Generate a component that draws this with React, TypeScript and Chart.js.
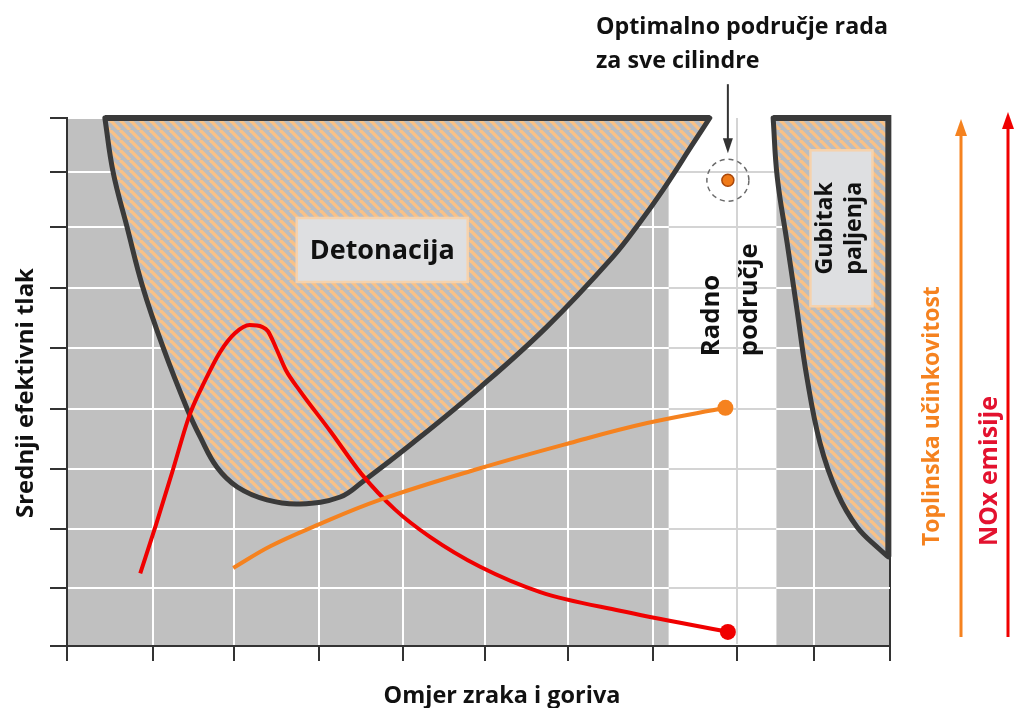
import React, { useEffect, useRef } from "react";
import { Chart, registerables } from "chart.js";

Chart.register(...registerables);

// ---- axes (the original has tick marks but no tick labels) ----
const X_TICKS = [0, 1.05, 2.03, 3.06, 4.08, 5.08, 6.09, 7.12, 8.14, 9.08, 10];
const Y_TICKS = [0, 0.99, 1.99, 3.02, 4.04, 5.08, 6.1, 7.14, 8.08, 9];
const X_MAX = 10;
const Y_MAX = 9;

// ---- NOx emissions (red) ----
const NOX_X = [0.89, 1.08, 1.28, 1.49, 1.68, 1.86, 2.04, 2.22, 2.37, 2.44, 2.54, 2.66, 2.83, 3.2, 3.58, 3.99, 4.41, 5.02, 5.75, 6.72, 8.03];
const NOX_Y = [1.24, 2.06, 2.97, 3.94, 4.53, 5.01, 5.33, 5.47, 5.44, 5.37, 5.08, 4.7, 4.35, 3.66, 2.93, 2.32, 1.86, 1.35, 0.92, 0.6, 0.24];

// ---- thermal efficiency (orange) ----
const EFF_X = [2.02, 2.47, 2.99, 3.8, 5.02, 6.11, 7.05, 8.0];
const EFF_Y = [1.33, 1.7, 2.03, 2.49, 3.03, 3.46, 3.8, 4.06];

// ---- knock region boundary ----
const KNOCK_X = [0.46, 0.56, 0.73, 0.92, 1.17, 1.46, 1.62, 1.82, 2.07, 2.43, 2.83, 3.32, 3.6, 4.2, 5.02, 5.83, 6.63, 6.96, 7.24, 7.61, 7.81];
const KNOCK_Y = [9, 8.08, 7.14, 6.12, 5.08, 4.04, 3.56, 3.05, 2.71, 2.49, 2.42, 2.54, 2.81, 3.46, 4.41, 5.44, 6.63, 7.22, 7.77, 8.57, 9];

// ---- misfire region boundary ----
const MISFIRE_X = [8.58, 8.63, 8.75, 8.87, 8.99, 9.15, 9.36, 9.6, 9.88, 9.98];
const MISFIRE_Y = [9, 7.99, 6.87, 5.73, 4.58, 3.46, 2.61, 2.03, 1.64, 1.52];

// ---- optimum point and working zone ----
const OPTIMUM_X = [8.03];
const OPTIMUM_Y = [7.94];
const WORK_ZONE = [7.31, 8.62];

// ---- texts ----
const LABEL_KNOCK = "Detonacija";
const LABEL_MISFIRE = ["Gubitak", "paljenja"];
const LABEL_ZONE = ["Radno", "područje"];
const LABEL_OPT = ["Optimalno područje rada", "za sve cilindre"];
const X_TITLE = "Omjer zraka i goriva";
const Y_TITLE = "Srednji efektivni tlak";
const EFF_TITLE = "Toplinska učinkovitost";
const NOX_TITLE = "NOx emisije";

const ORANGE = "#f5821f";
const RED = "#f00000";
const RED_TEXT = "#e3122f";
const DARK = "#3a3a3a";
const FONT = (s: number) => `bold ${s}px "Open Sans", Lato, sans-serif`;

function pts(xs: number[], ys: number[]) {
  return xs.map((x, i) => ({ x, y: ys[i] }));
}

function makePattern(): CanvasPattern | string {
  const s = 10;
  const c = document.createElement("canvas");
  c.width = s;
  c.height = s;
  const g = c.getContext("2d");
  if (!g) return "#c8b8a8";
  g.fillStyle = "#babdc2";
  g.fillRect(0, 0, s, s);
  g.strokeStyle = "#f9c186";
  g.lineWidth = 3.3;
  for (const k of [-1, 0, 1]) {
    g.beginPath();
    g.moveTo(k * s, 0);
    g.lineTo(k * s + s, s);
    g.stroke();
  }
  return g.createPattern(c, "repeat") || "#c8b8a8";
}

// font size that makes `text` exactly `width` pixels wide
function fit(ctx: CanvasRenderingContext2D, text: string, width: number) {
  ctx.save();
  ctx.font = FONT(20);
  const w = ctx.measureText(text).width || 1;
  ctx.restore();
  return (20 * width) / w;
}

function vText(ctx: CanvasRenderingContext2D, text: string, x: number, y: number, align: CanvasTextAlign, color: string, size: number) {
  ctx.save();
  ctx.translate(x, y);
  ctx.rotate(-Math.PI / 2);
  ctx.font = FONT(size);
  ctx.fillStyle = color;
  ctx.textAlign = align;
  ctx.textBaseline = "middle";
  ctx.fillText(text, 0, 0);
  ctx.restore();
}

function labelBox(ctx: CanvasRenderingContext2D, cx: number, cy: number, w: number, h: number) {
  ctx.save();
  ctx.fillStyle = "#dedfe1";
  ctx.strokeStyle = "#f6d2ac";
  ctx.lineWidth = 2.5;
  ctx.fillRect(cx - w / 2, cy - h / 2, w, h);
  ctx.strokeRect(cx - w / 2, cy - h / 2, w, h);
  ctx.restore();
}

function arrowUp(ctx: CanvasRenderingContext2D, x: number, y0: number, tip: number, color: string) {
  ctx.save();
  ctx.strokeStyle = color;
  ctx.fillStyle = color;
  ctx.lineWidth = 3;
  ctx.beginPath();
  ctx.moveTo(x, y0);
  ctx.lineTo(x, tip + 10);
  ctx.stroke();
  ctx.beginPath();
  ctx.moveTo(x, tip);
  ctx.lineTo(x - 6, tip + 17);
  ctx.lineTo(x + 6, tip + 17);
  ctx.closePath();
  ctx.fill();
  ctx.restore();
}

export default function App() {
  const ref = useRef<HTMLCanvasElement>(null);

  useEffect(() => {
    const canvas = ref.current;
    if (!canvas) return;
    const pattern = makePattern();
    const lastPoint = (r: number) => (c: any) => (c.dataIndex === c.dataset.data.length - 1 ? r : 0);

    const decor = {
      id: "decor",
      beforeDraw(chart: any) {
        const { ctx, chartArea: a, scales } = chart;
        const x = scales.x;
        ctx.save();
        ctx.fillStyle = "#c0c0c0";
        ctx.fillRect(a.left, a.top, a.right - a.left, a.bottom - a.top);
        const x0 = x.getPixelForValue(WORK_ZONE[0]);
        const x1 = x.getPixelForValue(WORK_ZONE[1]);
        ctx.fillStyle = "#ffffff";
        ctx.fillRect(x0, a.top, x1 - x0, a.bottom - a.top);
        ctx.restore();
      },
      beforeDatasetsDraw(chart: any) {
        const { ctx, chartArea: a, scales } = chart;
        const x = scales.x;
        const y = scales.y;
        const x0 = x.getPixelForValue(WORK_ZONE[0]);
        const x1 = x.getPixelForValue(WORK_ZONE[1]);
        ctx.save();
        ctx.beginPath();
        ctx.rect(x0, a.top, x1 - x0, a.bottom - a.top - 2);
        ctx.clip();
        ctx.strokeStyle = "#d4d4d4";
        ctx.lineWidth = 2;
        for (const v of X_TICKS) {
          const p = Math.round(x.getPixelForValue(v));
          ctx.beginPath();
          ctx.moveTo(p, a.top);
          ctx.lineTo(p, a.bottom);
          ctx.stroke();
        }
        for (const v of Y_TICKS.slice(1, -1)) {
          const p = Math.round(y.getPixelForValue(v));
          ctx.beginPath();
          ctx.moveTo(x0, p);
          ctx.lineTo(x1, p);
          ctx.stroke();
        }
        ctx.restore();
      },
      afterDraw(chart: any) {
        const { ctx, scales } = chart;
        const x = scales.x;
        const y = scales.y;
        ctx.save();

        // optimum marker: dashed ring + arrow
        const ox = x.getPixelForValue(OPTIMUM_X[0]);
        const oy = y.getPixelForValue(OPTIMUM_Y[0]);
        ctx.strokeStyle = "#6a6a6a";
        ctx.lineWidth = 1.5;
        ctx.setLineDash([5, 4]);
        ctx.beginPath();
        ctx.arc(ox, oy, 21, 0, Math.PI * 2);
        ctx.stroke();
        ctx.setLineDash([]);
        ctx.strokeStyle = "#333";
        ctx.fillStyle = "#333";
        ctx.lineWidth = 2;
        ctx.beginPath();
        ctx.moveTo(ox, oy - 96);
        ctx.lineTo(ox, oy - 36);
        ctx.stroke();
        ctx.beginPath();
        ctx.moveTo(ox, oy - 27);
        ctx.lineTo(ox - 5, oy - 42);
        ctx.lineTo(ox + 5, oy - 42);
        ctx.closePath();
        ctx.fill();

        // boxed labels
        const kx = x.getPixelForValue(3.83);
        const ky = y.getPixelForValue(6.75);
        labelBox(ctx, kx, ky, 171, 64);
        ctx.font = FONT(fit(ctx, LABEL_KNOCK, 145));
        ctx.fillStyle = "#111";
        ctx.textAlign = "center";
        ctx.textBaseline = "middle";
        ctx.fillText(LABEL_KNOCK, kx, ky + 1);

        const mx = x.getPixelForValue(9.41);
        const my = y.getPixelForValue(7.12);
        labelBox(ctx, mx, my, 62, 156);
        const gs = fit(ctx, LABEL_MISFIRE[1], 93);
        vText(ctx, LABEL_MISFIRE[0], mx - 16, my, "center", "#111", gs);
        vText(ctx, LABEL_MISFIRE[1], mx + 13, my, "center", "#111", gs);

        const zy = y.getPixelForValue(4.94);
        const zs = fit(ctx, LABEL_ZONE[1], 113);
        vText(ctx, LABEL_ZONE[0], x.getPixelForValue(7.83), zy, "left", "#111", zs);
        vText(ctx, LABEL_ZONE[1], x.getPixelForValue(8.29), zy, "left", "#111", zs);

        // top annotation
        ctx.font = FONT(fit(ctx, LABEL_OPT[0], 292));
        ctx.fillStyle = "#111";
        ctx.textAlign = "left";
        ctx.textBaseline = "alphabetic";
        ctx.fillText(LABEL_OPT[0], 596, 34);
        ctx.fillText(LABEL_OPT[1], 596, 68);

        // axis titles
        ctx.textAlign = "center";
        ctx.font = FONT(fit(ctx, X_TITLE, 237));
        ctx.fillText(X_TITLE, 502, 703);
        vText(ctx, Y_TITLE, 26, 393, "center", "#111", fit(ctx, Y_TITLE, 250));

        // right-side indicator arrows
        arrowUp(ctx, 961, 637, 119, ORANGE);
        arrowUp(ctx, 1008, 637, 112, RED);
        vText(ctx, EFF_TITLE, 932, 546, "left", ORANGE, fit(ctx, EFF_TITLE, 260));
        vText(ctx, NOX_TITLE, 990, 546, "left", RED_TEXT, fit(ctx, NOX_TITLE, 150));

        ctx.restore();
      },
    };

    const chart = new Chart(canvas, {
      type: "line",
      data: {
        datasets: [
          {
            label: "Optimum",
            data: pts(OPTIMUM_X, OPTIMUM_Y),
            showLine: false,
            pointRadius: 6,
            pointBackgroundColor: "#f07a18",
            pointBorderColor: "#a9470a",
            pointBorderWidth: 1.5,
            order: 0,
          },
          {
            label: "Toplinska učinkovitost",
            data: pts(EFF_X, EFF_Y),
            borderColor: ORANGE,
            borderWidth: 4,
            tension: 0.4,
            pointRadius: lastPoint(8),
            pointBackgroundColor: ORANGE,
            pointBorderColor: ORANGE,
            pointBorderWidth: 0,
            fill: false,
            order: 1,
          },
          {
            label: "NOx emisije",
            data: pts(NOX_X, NOX_Y),
            borderColor: RED,
            borderWidth: 4,
            cubicInterpolationMode: "monotone",
            borderJoinStyle: "round",
            pointRadius: lastPoint(8),
            pointBackgroundColor: RED,
            pointBorderColor: RED,
            pointBorderWidth: 0,
            fill: false,
            order: 2,
          },
          {
            label: "Detonacija (gornji rub)",
            data: [{ x: KNOCK_X[0], y: Y_MAX }, { x: KNOCK_X[KNOCK_X.length - 1], y: Y_MAX }],
            borderColor: DARK,
            borderWidth: 6,
            pointRadius: 0,
            fill: false,
            clip: 8,
            order: 3,
          },
          {
            label: "Gubitak paljenja (rub)",
            data: [
              { x: MISFIRE_X[0], y: Y_MAX },
              { x: MISFIRE_X[MISFIRE_X.length - 1], y: Y_MAX },
              { x: MISFIRE_X[MISFIRE_X.length - 1], y: MISFIRE_Y[MISFIRE_Y.length - 1] },
            ],
            borderColor: DARK,
            borderWidth: 6,
            borderJoinStyle: "miter",
            pointRadius: 0,
            fill: false,
            clip: 8,
            order: 3,
          },
          {
            label: "Detonacija",
            data: pts(KNOCK_X, KNOCK_Y),
            borderColor: DARK,
            borderWidth: 5,
            borderJoinStyle: "round",
            borderCapStyle: "round",
            tension: 0.4,
            pointRadius: 0,
            backgroundColor: pattern as any,
            fill: "end",
            clip: 8,
            order: 4,
          },
          {
            label: "Gubitak paljenja",
            data: pts(MISFIRE_X, MISFIRE_Y),
            borderColor: DARK,
            borderWidth: 5,
            borderJoinStyle: "round",
            borderCapStyle: "round",
            tension: 0.4,
            pointRadius: 0,
            backgroundColor: pattern as any,
            fill: "end",
            clip: 8,
            order: 4,
          },
        ],
      },
      options: {
        responsive: false,
        animation: false,
        events: [],
        layout: { padding: { left: 50, right: 124, top: 118, bottom: 47 } },
        plugins: { legend: { display: false }, tooltip: { enabled: false }, title: { display: false } },
        scales: {
          x: {
            type: "linear",
            min: 0,
            max: X_MAX,
            afterBuildTicks: (axis: any) => {
              axis.ticks = X_TICKS.map((v) => ({ value: v }));
            },
            afterFit: (axis: any) => {
              axis.height = 15;
            },
            ticks: { display: false },
            grid: {
              color: (c: any) => (c.index === X_TICKS.length - 1 ? "#333333" : "#ffffff"),
              lineWidth: 2,
              drawTicks: true,
              tickLength: 15,
              tickColor: "#333333",
              tickWidth: 2,
            },
            border: { display: true, color: "#333333", width: 2 },
          },
          y: {
            type: "linear",
            min: 0,
            max: Y_MAX,
            afterBuildTicks: (axis: any) => {
              axis.ticks = Y_TICKS.map((v) => ({ value: v }));
            },
            afterFit: (axis: any) => {
              axis.width = 17;
            },
            ticks: { display: false },
            grid: {
              color: "#ffffff",
              lineWidth: 2,
              drawTicks: true,
              tickLength: 17,
              tickColor: "#333333",
              tickWidth: 2,
            },
            border: { display: true, color: "#333333", width: 2 },
          },
        },
      },
      plugins: [decor],
    } as any);

    return () => chart.destroy();
  }, []);

  return (
    <div style={{ position: "absolute", left: 0, top: 0, width: 1014, height: 708, background: "#fff" }}>
      <canvas ref={ref} width={1014} height={708} style={{ display: "block", width: 1014, height: 708 }} />
    </div>
  );
}
